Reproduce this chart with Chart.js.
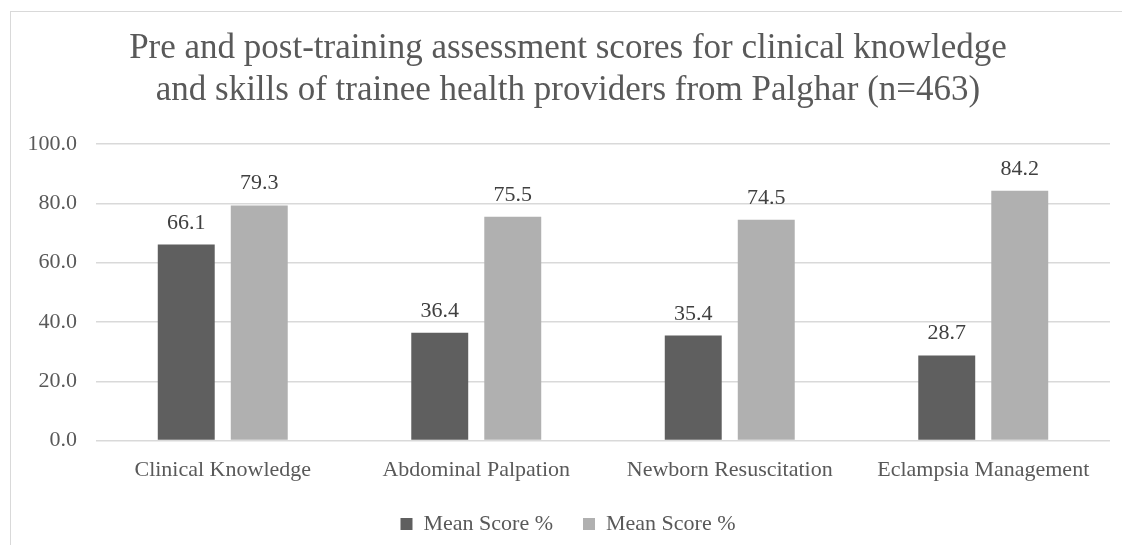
<!DOCTYPE html>
<html>
<head>
<meta charset="utf-8">
<script src="https://cdn.jsdelivr.net/npm/chart.js@4"></script>
<style>
  body { margin: 0; background: #fff; }
  #wrap { position: relative; width: 1122px; height: 545px; }
  #frame { position: absolute; left: 10px; top: 11px; right: 0; bottom: 0;
           border-top: 1px solid #d9d9d9; border-left: 1px solid #d9d9d9; pointer-events: none; }
</style>
</head>
<body>
<div id="wrap">
  <canvas id="chart" width="1122" height="545"></canvas>
  <div id="frame"></div>
</div>
<script>
const categories = ["Clinical Knowledge", "Abdominal Palpation", "Newborn Resuscitation", "Eclampsia Management"];
const preScores = [66.1, 36.4, 35.4, 28.7];
const postScores = [79.3, 75.5, 74.5, 84.2];
const yTicks = [0, 20, 40, 60, 80, 100];

const serif = "'Liberation Serif', 'Times New Roman', serif";
const textColor = "#595959";

// value labels above each bar
const barLabels = {
  id: 'barLabels',
  afterDatasetsDraw(chart) {
    const ctx = chart.ctx;
    ctx.save();
    ctx.font = "22px " + serif;
    ctx.fillStyle = "#404040";
    ctx.textAlign = "center";
    ctx.textBaseline = "alphabetic";
    chart.data.datasets.forEach((ds, i) => {
      chart.getDatasetMeta(i).data.forEach((bar, j) => {
        ctx.fillText(ds.data[j].toFixed(1), bar.x, bar.y - 16);
      });
    });
    ctx.restore();
  }
};

new Chart(document.getElementById("chart"), {
  type: 'bar',
  data: {
    labels: categories,
    datasets: [
      { label: 'Mean Score %', data: preScores, backgroundColor: '#5f5f5f',
        categoryPercentage: 0.576, barPercentage: 0.78 },
      { label: 'Mean Score %', data: postScores, backgroundColor: '#b0b0b0',
        categoryPercentage: 0.576, barPercentage: 0.78 }
    ]
  },
  options: {
    responsive: false,
    animation: false,
    layout: { padding: { left: 26, right: 12, top: 28, bottom: 0 } },
    plugins: {
      title: {
        display: true,
        text: ["Pre and post-training assessment scores for clinical knowledge",
               "and skills of trainee health providers from Palghar (n=463)"],
        color: textColor,
        font: { family: serif, size: 35, weight: 'normal', lineHeight: 1.2 },
        padding: { top: 0, bottom: 32 }
      },
      legend: {
        position: 'bottom',
        labels: {
          color: textColor,
          font: { family: serif, size: 22 },
          boxWidth: 12, boxHeight: 12, padding: 30
        }
      },
      tooltip: { enabled: false }
    },
    scales: {
      x: {
        grid: { display: false, drawTicks: false },
        border: { display: false },
        ticks: { color: textColor, font: { family: serif, size: 22 }, padding: 16 },
        afterFit(axis) { axis.height -= 16; }
      },
      y: {
        min: 0, max: 100,
        afterBuildTicks(axis) { axis.ticks = yTicks.map(v => ({ value: v })); },
        grid: { color: '#d9d9d9', lineWidth: 1.5, drawTicks: false },
        border: { display: false },
        ticks: { color: textColor, font: { family: serif, size: 22 }, padding: 19,
                 callback: v => v.toFixed(1) },
        afterFit(axis) { axis.width = 70; }
      }
    }
  },
  plugins: [barLabels]
});
</script>
</body>
</html>
